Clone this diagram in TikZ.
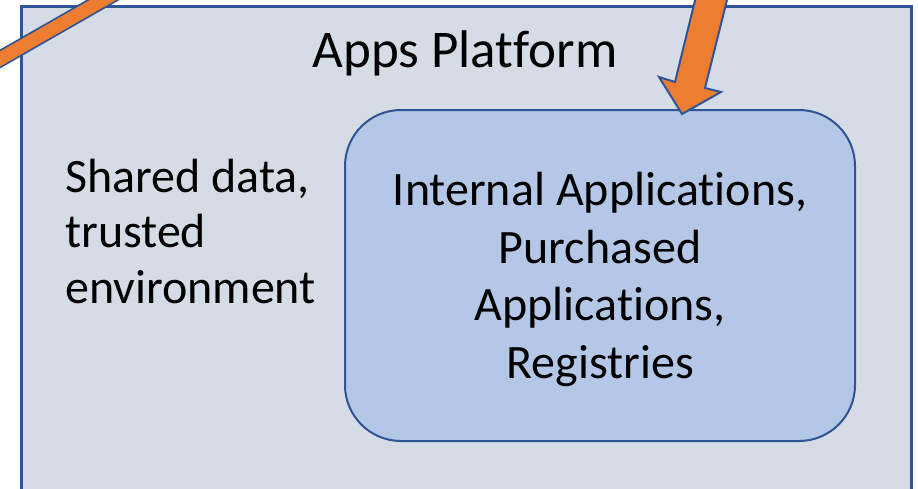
\documentclass[tikz,border=0pt]{standalone}
\usepackage{fontspec}
\setmainfont{Carlito}[Ligatures={NoCommon}]
\definecolor{outerfill}{HTML}{D6DCE5}
\definecolor{innerfill}{HTML}{B4C7E7}
\definecolor{edgeblue}{HTML}{2F5597}
\definecolor{arroworange}{HTML}{ED7D31}
\begin{document}
\begin{tikzpicture}[x=1pt,y=-1pt,
  bigtext/.style={font=\fontsize{48}{57.5}\selectfont, inner sep=0pt},
  titletext/.style={font=\fontsize{53}{60}\selectfont, inner sep=0pt},
  platform/.style={draw=edgeblue, line width=3pt, fill=outerfill},
  appbox/.style={draw=edgeblue, line width=2pt, fill=innerfill, rounded corners=56pt},
  arrowshape/.style={draw=edgeblue, line width=2pt, fill=arroworange, line join=miter}]
\useasboundingbox (0,0) rectangle (918,488);
\fill[white] (0,0) rectangle (918,488);
% outer platform box
\draw[platform] (21.5,6.5) rectangle (911,520);
% shaft of the left arrow (both ends off the page)
\coordinate (s1) at (-40,81.9);
\coordinate (s2) at (140,-21.2);
\draw[edgeblue, line width=16.5pt] (s1) -- (s2);
\draw[arroworange, line width=13pt] (s1) -- (s2);
% inner applications box
\draw[appbox] (345,110) rectangle (855,441);
% right arrow pointing into the applications box
\draw[arrowshape] (700,-20) -- (675,82) -- (659,77) -- (682,114) -- (721,92) -- (705,88) -- (732,-20) -- cycle;
% texts
\node[titletext, anchor=base] (title) at (465,67) {Apps Platform};
\node[bigtext, anchor=base west, align=left, font=\fontsize{48}{55.5}\selectfont] (shared) at (65,303) {Shared data,\\trusted\\environment};
\node[bigtext, anchor=base, align=center] (apps) at (600,378) {Internal Applications,\\Purchased\\Applications,\\Registries};
\end{tikzpicture}
\end{document}
